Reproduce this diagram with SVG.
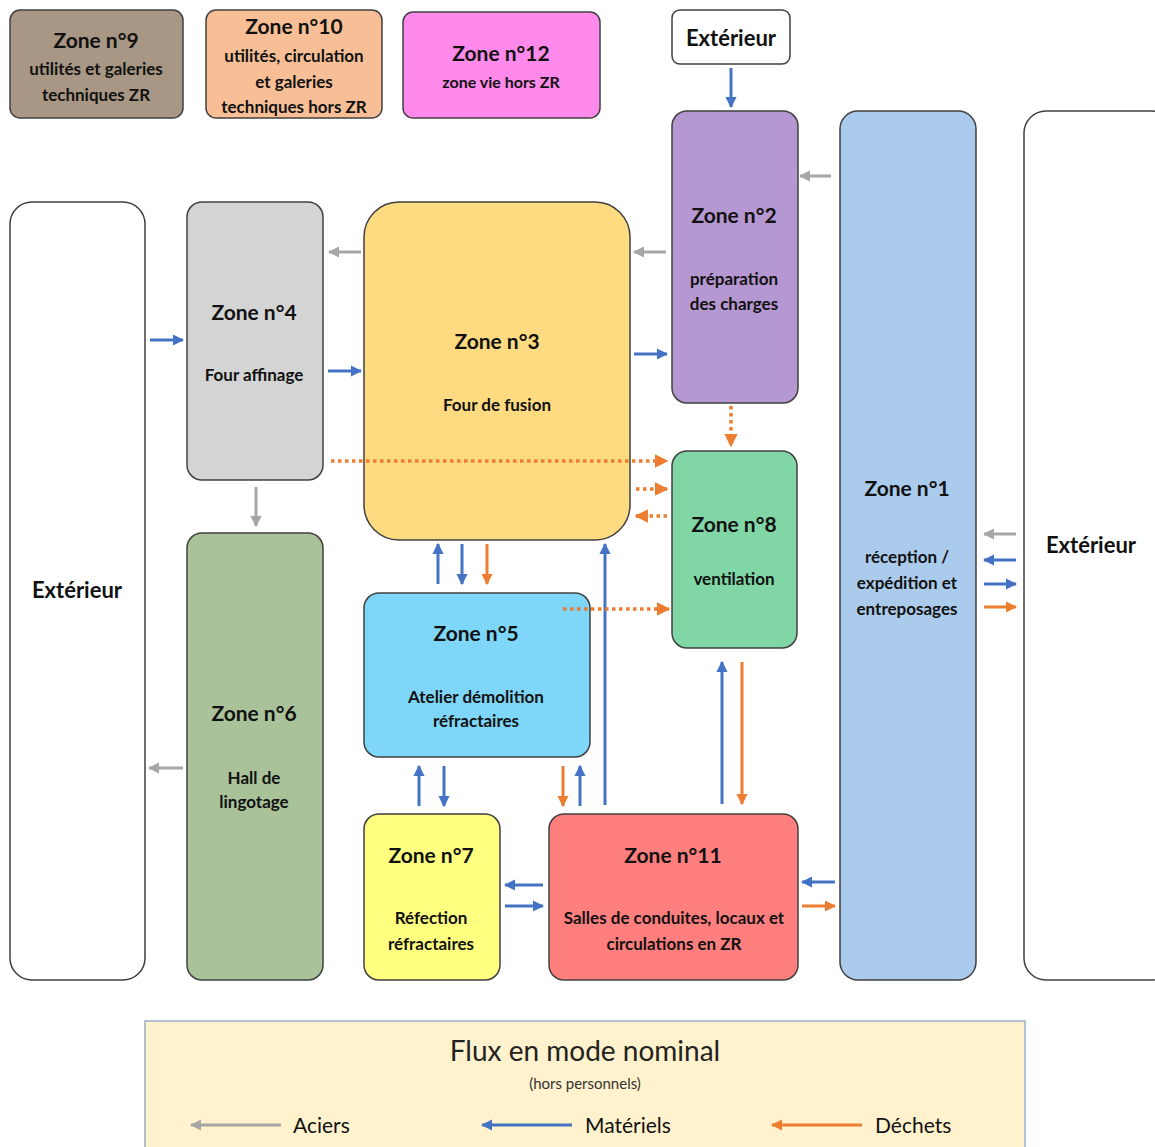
<svg xmlns="http://www.w3.org/2000/svg" width="1155" height="1147" viewBox="0 0 1155 1147">
  <defs>
    <marker id="hg" viewBox="0 0 10 10" refX="9" refY="5" markerWidth="3.8" markerHeight="3.8" orient="auto" markerUnits="strokeWidth">
      <path d="M0,0 L10,5 L0,10 z" fill="#a6a6a6"/>
    </marker>
    <marker id="hb" viewBox="0 0 10 10" refX="9" refY="5" markerWidth="3.8" markerHeight="3.8" orient="auto" markerUnits="strokeWidth">
      <path d="M0,0 L10,5 L0,10 z" fill="#4472c4"/>
    </marker>
    <marker id="ho" viewBox="0 0 10 10" refX="9" refY="5" markerWidth="3.8" markerHeight="3.8" orient="auto" markerUnits="strokeWidth">
      <path d="M0,0 L10,5 L0,10 z" fill="#ed7d31"/>
    </marker>
  </defs>
  <style>
    .box { stroke: #404040; stroke-width: 1.5; }
    text { font-family: Lato, "Open Sans", sans-serif; fill: #111; text-anchor: middle; }
    .t { font-size: 21px; font-weight: 700; }
    .x { font-size: 22px; font-weight: 700; }
    .s { font-size: 17px; font-weight: 700; }
    .g { stroke: #a6a6a6; stroke-width: 3; fill: none; marker-end: url(#hg); }
    .b { stroke: #4472c4; stroke-width: 3; fill: none; marker-end: url(#hb); }
    .o { stroke: #ed7d31; stroke-width: 3; fill: none; marker-end: url(#ho); }
    .d { stroke: #ed7d31; stroke-width: 3.5; stroke-dasharray: 3.5 3.5; fill: none; marker-end: url(#ho); }
    .lg { font-size: 21px; font-weight: 400; text-anchor: start; }
  </style>
  <rect width="1155" height="1147" fill="#ffffff"/>

  <g id="zone9">
    <rect class="box" x="10" y="10" width="173" height="108" rx="10" fill="#a89784"/>
    <text class="t" x="96" y="48">Zone n°9</text>
    <text class="s" x="96" y="75">utilités et galeries</text>
    <text class="s" x="96" y="101">techniques ZR</text>
  </g>
  <g id="zone10">
    <rect class="box" x="206" y="10" width="176" height="108" rx="10" fill="#f8bf97"/>
    <text class="t" x="294" y="34">Zone n°10</text>
    <text class="s" x="294" y="62">utilités, circulation</text>
    <text class="s" x="294" y="88">et galeries</text>
    <text class="s" x="294" y="113">techniques hors ZR</text>
  </g>
  <g id="zone12">
    <rect class="box" x="403" y="12" width="197" height="106" rx="10" fill="#ff8aec"/>
    <text class="t" x="501" y="61">Zone n°12</text>
    <text class="s" x="501" y="88" style="font-size:16px">zone vie hors ZR</text>
  </g>
  <g id="ext-top">
    <rect class="box" x="672" y="10" width="118" height="54" rx="8" fill="#ffffff"/>
    <text class="x" x="731" y="46">Extérieur</text>
  </g>
  <g id="ext-right">
    <rect class="box" x="1024" y="111" width="150" height="869" rx="22" fill="#ffffff"/>
    <text class="x" x="1091" y="553">Extérieur</text>
  </g>
  <g id="ext-left">
    <rect class="box" x="10" y="202" width="135" height="778" rx="22" fill="#ffffff"/>
    <text class="x" x="77" y="598">Extérieur</text>
  </g>
  <g id="zone1">
    <rect class="box" x="840" y="111" width="136" height="869" rx="18" fill="#aacbec"/>
    <text class="t" x="907" y="496">Zone n°1</text>
    <text class="s" x="907" y="563">réception /</text>
    <text class="s" x="907" y="589">expédition et</text>
    <text class="s" x="907" y="615">entreposages</text>
  </g>
  <g id="zone2">
    <rect class="box" x="672" y="111" width="126" height="292" rx="15" fill="#b597d1"/>
    <text class="t" x="734" y="223">Zone n°2</text>
    <text class="s" x="734" y="285">préparation</text>
    <text class="s" x="734" y="310">des charges</text>
  </g>
  <g id="zone4">
    <rect class="box" x="187" y="202" width="136" height="278" rx="15" fill="#d4d4d4"/>
    <text class="t" x="254" y="320">Zone n°4</text>
    <text class="s" x="254" y="381">Four affinage</text>
  </g>
  <g id="zone3">
    <rect class="box" x="364" y="202" width="266" height="338" rx="35" fill="#fedb81"/>
    <text class="t" x="497" y="349">Zone n°3</text>
    <text class="s" x="497" y="411">Four de fusion</text>
  </g>
  <g id="zone8">
    <rect class="box" x="672" y="451" width="125" height="197" rx="15" fill="#80d6a5"/>
    <text class="t" x="734" y="532">Zone n°8</text>
    <text class="s" x="734" y="585">ventilation</text>
  </g>
  <g id="zone6">
    <rect class="box" x="187" y="533" width="136" height="447" rx="15" fill="#a9c29a"/>
    <text class="t" x="254" y="721">Zone n°6</text>
    <text class="s" x="254" y="784">Hall de</text>
    <text class="s" x="254" y="808">lingotage</text>
  </g>
  <g id="zone5">
    <rect class="box" x="364" y="593" width="226" height="164" rx="15" fill="#7ed7f8"/>
    <text class="t" x="476" y="641">Zone n°5</text>
    <text class="s" x="476" y="703">Atelier démolition</text>
    <text class="s" x="476" y="727">réfractaires</text>
  </g>
  <g id="zone7">
    <rect class="box" x="364" y="814" width="136" height="166" rx="15" fill="#ffff80"/>
    <text class="t" x="431" y="863">Zone n°7</text>
    <text class="s" x="431" y="924">Réfection</text>
    <text class="s" x="431" y="950">réfractaires</text>
  </g>
  <g id="zone11">
    <rect class="box" x="549" y="814" width="249" height="166" rx="15" fill="#ff7e7e"/>
    <text class="t" x="673" y="863">Zone n°11</text>
    <text class="s" x="674" y="924">Salles de conduites, locaux et</text>
    <text class="s" x="674" y="950">circulations en ZR</text>
  </g>

  <g id="connectors">
    <!-- aciers -->
    <line class="g" x1="831" y1="176" x2="800" y2="176"/>
    <line class="g" x1="666" y1="252" x2="634" y2="252"/>
    <line class="g" x1="361" y1="252" x2="329" y2="252"/>
    <line class="g" x1="256" y1="487" x2="256" y2="526"/>
    <line class="g" x1="183" y1="768" x2="149" y2="768"/>
    <line class="g" x1="1016" y1="534" x2="984" y2="534"/>
    <!-- matériels -->
    <line class="b" x1="731" y1="68" x2="731" y2="107"/>
    <line class="b" x1="150" y1="340" x2="183" y2="340"/>
    <line class="b" x1="328" y1="371" x2="361" y2="371"/>
    <line class="b" x1="634" y1="354" x2="667" y2="354"/>
    <line class="b" x1="438" y1="584" x2="438" y2="544"/>
    <line class="b" x1="462" y1="544" x2="462" y2="584"/>
    <line class="b" x1="605" y1="805" x2="605" y2="544"/>
    <line class="b" x1="419" y1="806" x2="419" y2="766"/>
    <line class="b" x1="444" y1="766" x2="444" y2="806"/>
    <line class="b" x1="580" y1="806" x2="580" y2="766"/>
    <line class="b" x1="722" y1="804" x2="722" y2="662"/>
    <line class="b" x1="543" y1="885" x2="505" y2="885"/>
    <line class="b" x1="505" y1="906" x2="543" y2="906"/>
    <line class="b" x1="835" y1="882" x2="802" y2="882"/>
    <line class="b" x1="1016" y1="560" x2="984" y2="560"/>
    <line class="b" x1="984" y1="584" x2="1016" y2="584"/>
    <!-- déchets -->
    <line class="o" x1="487" y1="544" x2="487" y2="584"/>
    <line class="o" x1="563" y1="766" x2="563" y2="806"/>
    <line class="o" x1="742" y1="662" x2="742" y2="804"/>
    <line class="o" x1="802" y1="906" x2="835" y2="906"/>
    <line class="o" x1="984" y1="607" x2="1016" y2="607"/>
    <!-- déchets, flux d'air -->
    <line class="d" x1="731" y1="406" x2="731" y2="446"/>
    <line class="d" x1="331" y1="461" x2="667" y2="461"/>
    <line class="d" x1="636" y1="489" x2="667" y2="489"/>
    <line class="d" x1="667" y1="516" x2="636" y2="516"/>
    <line class="d" x1="563" y1="609" x2="669" y2="609"/>
  </g>

  <g id="legend">
    <rect x="145" y="1021" width="880" height="140" fill="#fff2cc" stroke="#9aafc8" stroke-width="1.5"/>
    <text x="585" y="1061" style="font-size:28px;font-weight:400;fill:#222">Flux en mode nominal</text>
    <text x="585" y="1089" style="font-size:15px;font-weight:400;fill:#333">(hors personnels)</text>
    <line class="g" x1="281" y1="1125" x2="191" y2="1125"/>
    <text class="lg" x="293" y="1133">Aciers</text>
    <line class="b" x1="572" y1="1125" x2="482" y2="1125"/>
    <text class="lg" x="585" y="1133">Matériels</text>
    <line class="o" x1="862" y1="1125" x2="772" y2="1125"/>
    <text class="lg" x="875" y="1133">Déchets</text>
  </g>
</svg>
